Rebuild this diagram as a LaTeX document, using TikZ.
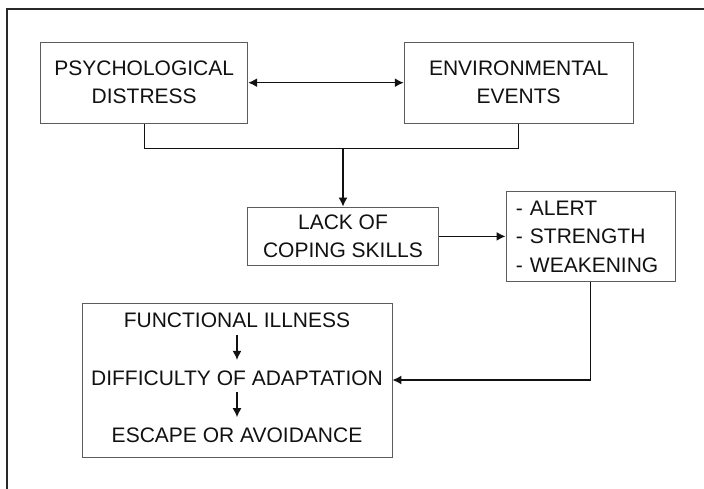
\documentclass[tikz,border=0pt]{standalone}
\usepackage{fontspec}
\setmainfont{Liberation Sans}
\usepackage{tikz}
\usetikzlibrary{arrows.meta,positioning}
\usepackage{xcolor}
\definecolor{ink}{HTML}{111111}
\definecolor{rim}{HTML}{5C5C5C}
\tikzset{box/.style={draw=rim,line width=.9pt,align=center,text=ink,font=\fontsize{21pt}{28pt}\selectfont},listbox/.style={box,align=left,inner xsep=10pt,text width=149pt,font=\fontsize{21pt}{28.5pt}\selectfont},txt/.style={inner sep=0pt,text=ink,font=\fontsize{21pt}{28pt}\selectfont},link/.style={draw=ink,line width=1.4pt},arr/.style={link,-{Latex[length=9pt,width=9pt]}},frameline/.style={draw=ink!90,line width=1.7pt}}

\begin{document}
\begin{tikzpicture}[x=1pt,y=1pt]
\useasboundingbox (0,0) rectangle (704,-489);
\draw[frameline] (7.3,-489) -- (7.3,-9.3) -- (704,-9.3);
\node[box,minimum width=207pt,minimum height=81pt] (psych) at (144.2,-82.7) {PSYCHOLOGICAL\\DISTRESS};
\node[box,minimum width=229pt,minimum height=81pt,right=155.6pt of psych] (env) {ENVIRONMENTAL\\EVENTS};
\node[box,minimum width=191.5pt,minimum height=58.7pt] (lack) at (343,-236.4) {LACK OF\\COPING SKILLS};
\node[listbox,minimum height=89.6pt,right=66.3pt of lack] (alert) {- ALERT\\- STRENGTH\\- WEAKENING};
\node[box,minimum width=310pt,minimum height=154pt] (func) at (237,-380) {};
\node[txt] (dif) at ([yshift=2pt]func.center) {DIFFICULTY OF ADAPTATION};
\node[txt,above=42pt of dif] (ill) {FUNCTIONAL ILLNESS};
\node[txt,below=42pt of dif] (esc) {ESCAPE OR AVOIDANCE};
\coordinate (bus) at (343,-148.3);
% links
\draw[link,{Latex[length=9pt,width=9pt]}-{Latex[length=9pt,width=9pt]}] (psych.east) -- (psych.east -| env.west);
\draw[link] (psych.south) |- (bus) -| (env.south);
\draw[arr] (bus) -- (lack.north);
\draw[arr] (lack.east) -- (lack.east -| alert.west);
\draw[arr] (alert.south) |- (func.east);
\draw[arr,line width=1.2pt,shorten <=6.5pt,shorten >=10.5pt] (ill.south) -- (dif.north -| ill.south);
\draw[arr,line width=1.2pt,shorten <=6.5pt,shorten >=10.5pt] (dif.south -| ill.south) -- (esc.north -| ill.south);
\end{tikzpicture}
\end{document}
